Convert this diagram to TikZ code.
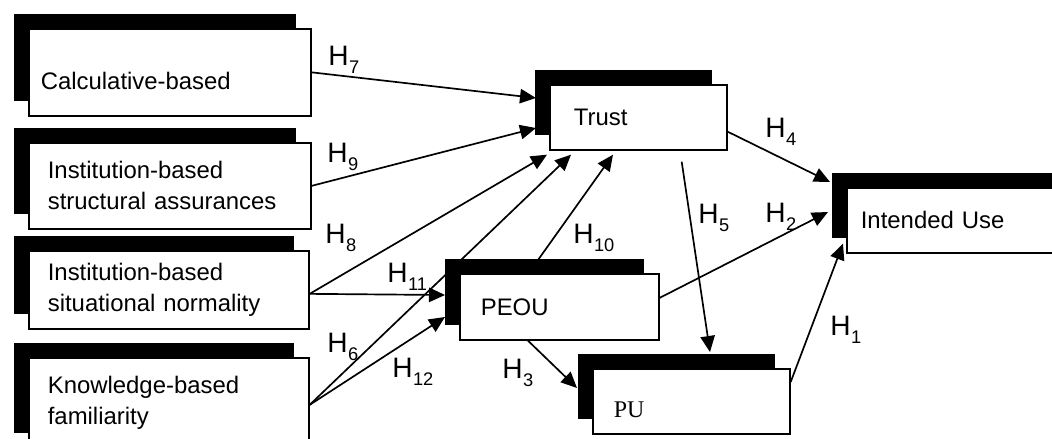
\documentclass[tikz,border=0pt]{standalone}
\usepackage{fontspec}
\setmainfont{Liberation Sans}
\newfontfamily\timesfont{Liberation Serif}
\usetikzlibrary{arrows.meta,shadows}

% hypothesis label: H with a lowered index
\newcommand{\hypo}[1]{H\kern0.3pt\raisebox{-2mm}{\fontsize{13pt}{13pt}\selectfont #1}}

\tikzset{
  factor/.style={draw, line width=1.2pt, fill=white, rectangle, anchor=north west,
    align=left, inner ysep=0pt, font=\fontsize{17pt}{22pt}\selectfont,
    general shadow={fill=black, shadow xshift=-3.75mm, shadow yshift=3.75mm}},
  hyp/.style={line width=1.2pt, -{Triangle[length=4mm,width=3.6mm]}},
  hlabel/.style={anchor=base west, inner sep=0pt, font=\fontsize{20pt}{24pt}\selectfont}
}

\begin{document}
\begin{tikzpicture}[x=0.25mm,y=-0.25mm]
\useasboundingbox (0,0) rectangle (1052,438);
\clip (0,0) rectangle (1052,438);

% antecedents of trust
\node[factor, inner xsep=3mm, text width=64.5mm, minimum height=21.75mm] (calc) at (28,28) {\rule{0pt}{8.6mm}Calculative-based};
\node[factor, inner xsep=4.75mm, text width=61mm, minimum height=21.5mm] (struct) at (28,142) {Institution-based\\structural assurances};
\node[factor, inner xsep=4.75mm, text width=60.5mm, minimum height=19.5mm] (situ) at (28,250) {Institution-based\\situational normality};
\node[factor, inner xsep=4.75mm, text width=60.5mm, minimum height=22.5mm] (famil) at (28,357) {Knowledge-based\\familiarity};

% TAM part
\node[factor, inner xsep=6mm, text width=32.25mm, minimum height=16.25mm] (trust) at (549,84) {Trust};
\node[factor, inner xsep=5.25mm, text width=39.25mm, minimum height=16.5mm] (peou) at (459,273) {PEOU};
\node[factor, inner xsep=5.25mm, text width=38.75mm, minimum height=16.25mm] (pu) at (592,368) {\timesfont\rule{0pt}{8mm}PU};
\node[factor, inner xsep=3.5mm, text width=48mm, minimum height=16.25mm] (use) at (846,187) {Intended Use};

% hypotheses
\draw[hyp] (calc.east) -- ([shift={(-13,14)}]trust.north west);
\draw[hyp] (struct.east) -- ([shift={(-13,44)}]trust.north west);
\draw[hyp] ([shift={(0,4)}]situ.east) -- ([shift={(-2,4)}]trust.south west);
\draw[hyp] ([shift={(0,4)}]situ.east) -- ([shift={(-14,22)}]peou.north west);
\draw[hyp] ([shift={(0,2)}]famil.east) -- ([shift={(22,4)}]trust.south west);
\draw[hyp] ([shift={(0,2)}]famil.east) -- ([shift={(-14,44)}]peou.north west);
\draw[hyp] ([shift={(79,-13)}]peou.north west) -- ([shift={(64,4)}]trust.south west);
\draw[hyp] ([shift={(-46,11)}]trust.south east) -- ([shift={(118,-16)}]pu.north west);
\draw[hyp] ([shift={(0,-19)}]trust.south east) -- ([shift={(-16,-5)}]use.north west);
\draw[hyp] ([shift={(0,-9)}]peou.east) -- ([shift={(-18,25)}]use.north west);
\draw[hyp] ([shift={(0,14)}]pu.north east) -- ([shift={(-3,-10)}]use.south west);
\draw[hyp] ([shift={(69,0)}]peou.south west) -- ([shift={(-15,20)}]pu.north west);

\node[hlabel] (h7) at (328,65) {\hypo{7}};
\node[hlabel] (h9) at (327,162) {\hypo{9}};
\node[hlabel] (h8) at (325,243) {\hypo{8}};
\node[hlabel] (h11) at (387,282) {\hypo{11}};
\node[hlabel] (h6) at (327,352) {\hypo{6}};
\node[hlabel] (h12) at (392,377) {\hypo{12}};
\node[hlabel] (h10) at (573,243) {\hypo{10}};
\node[hlabel] (h5) at (698,223) {\hypo{5}};
\node[hlabel] (h4) at (765,137) {\hypo{4}};
\node[hlabel] (h2) at (765,222) {\hypo{2}};
\node[hlabel] (h1) at (830,335) {\hypo{1}};
\node[hlabel] (h3) at (502,378) {\hypo{3}};
\end{tikzpicture}
\end{document}
